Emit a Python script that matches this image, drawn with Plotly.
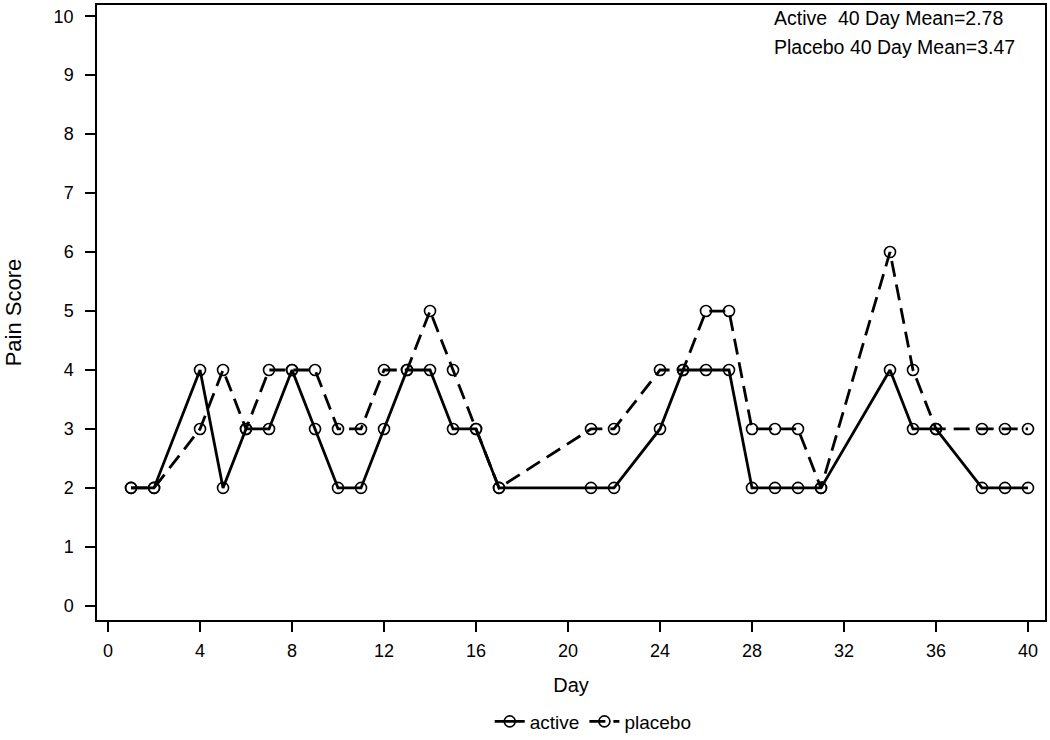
import plotly.graph_objects as go

# Pain scores by study day
days = [1, 2, 4, 5, 6, 7, 8, 9, 10, 11, 12, 13, 14, 15, 16, 17,
        21, 22, 24, 25, 26, 27, 28, 29, 30, 31, 34, 35, 36, 38, 39, 40]
active = [2, 2, 4, 2, 3, 3, 4, 3, 2, 2, 3, 4, 4, 3, 3, 2,
          2, 2, 3, 4, 4, 4, 2, 2, 2, 2, 4, 3, 3, 2, 2, 2]
placebo = [2, 2, 3, 4, 3, 4, 4, 4, 3, 3, 4, 4, 5, 4, 3, 2,
           3, 3, 4, 4, 5, 5, 3, 3, 3, 2, 6, 4, 3, 3, 3, 3]
x_ticks = list(range(0, 41, 4))
y_ticks = list(range(0, 11))
mean_text = ["Active  40 Day Mean=2.78", "Placebo 40 Day Mean=3.47"]

FONT = "Liberation Sans, Arial, sans-serif"

fig = go.Figure()

marker_style = dict(symbol="circle-open", size=11, color="black",
                    line=dict(width=1.6, color="black"))

fig.add_trace(go.Scatter(x=days, y=active, name="active", mode="lines+markers",
                         line=dict(color="black", width=2.8),
                         marker=marker_style))
fig.add_trace(go.Scatter(x=days, y=placebo, name="placebo", mode="lines+markers",
                         line=dict(color="black", width=2.8, dash="16px,8px"),
                         marker=marker_style))

# mean summary, one line per annotation
for i, txt in enumerate(mean_text):
    fig.add_annotation(text=txt, xref="paper", yref="paper",
                       x=0.712, y=0.979 - i * 0.047, xanchor="left", yanchor="middle",
                       align="left", showarrow=False,
                       font=dict(family=FONT, size=19.5, color="black"))

axis_common = dict(showline=True, linecolor="black", linewidth=1.5, mirror=True,
                   ticks="outside", ticklen=10, tickwidth=1.5, tickcolor="black",
                   showgrid=False, zeroline=False,
                   tickfont=dict(family=FONT, size=18, color="black"))

fig.update_xaxes(range=[-0.48, 40.74], tickvals=x_ticks, ticklabelstandoff=4,
                 title=dict(text="Day", font=dict(family=FONT, size=20), standoff=18),
                 **axis_common)
fig.update_yaxes(range=[-0.24, 10.19], tickvals=y_ticks, ticklabelstandoff=8,
                 title=dict(text="Pain Score", font=dict(family=FONT, size=22), standoff=26),
                 **axis_common)

fig.update_layout(
    width=1050, height=740,
    margin=dict(l=97, r=3, t=5, b=120),
    plot_bgcolor="white", paper_bgcolor="white",
    font=dict(family=FONT, color="black"),
    legend=dict(orientation="h", xref="container", x=0.565, xanchor="center",
                yref="container", y=0.025, yanchor="middle",
                font=dict(family=FONT, size=19)),
)

# drop the default 8px page margin so the figure sits at the window corner
fig.write_html("out.html", config={"displayModeBar": False},
               post_script="document.body.style.margin='0';")
